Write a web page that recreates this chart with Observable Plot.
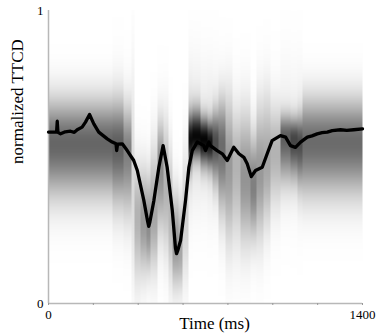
<!DOCTYPE html>
<html>
<head>
<meta charset="utf-8">
<script src="https://cdn.jsdelivr.net/npm/d3@7"></script>
<script src="https://cdn.jsdelivr.net/npm/@observablehq/plot@0.6"></script>
<style>
  html, body { margin: 0; padding: 0; background: #fff; }
  #chart { width: 377px; height: 336px; }
  #chart svg text { font-family: 'Liberation Serif', 'Times New Roman', serif; }
</style>
</head>
<body>
<div id="chart"></div>
<script>
// ---- mean curve (time in ms, normalized TTCD) ----
const lineT = [0, 36, 39, 42, 54, 75, 98, 115, 128, 150, 165, 183, 202, 224, 262, 284, 301, 304, 308, 329, 351, 380, 396, 425, 442, 447, 452, 470, 492, 511, 529, 552, 566, 571, 576, 589, 611, 626, 641, 663, 678, 692, 700, 715, 722, 752, 775, 797, 826, 849, 871, 886, 904, 923, 953, 975, 997, 1034, 1057, 1079, 1101, 1124, 1154, 1175, 1198, 1220, 1243, 1265, 1302, 1330, 1361, 1400];
const lineV = [0.585, 0.585, 0.622, 0.584, 0.579, 0.586, 0.588, 0.584, 0.593, 0.602, 0.619, 0.645, 0.613, 0.585, 0.562, 0.551, 0.545, 0.522, 0.544, 0.545, 0.522, 0.488, 0.454, 0.352, 0.280, 0.263, 0.278, 0.352, 0.465, 0.539, 0.465, 0.317, 0.190, 0.170, 0.180, 0.215, 0.352, 0.465, 0.522, 0.551, 0.545, 0.539, 0.522, 0.551, 0.539, 0.522, 0.511, 0.488, 0.533, 0.511, 0.499, 0.477, 0.433, 0.454, 0.465, 0.511, 0.556, 0.573, 0.568, 0.539, 0.533, 0.551, 0.568, 0.572, 0.579, 0.583, 0.585, 0.590, 0.593, 0.591, 0.593, 0.596];

// ---- background distribution, per time segment ----
const segStart  = [0,     285,  334,  370,  383,  410,  437,  455,  486,  513,  535,  553,  580,  598,  624,  642,  678,  709,  731,  758,  789,  820,  856,  901,  927,  959,  990,  1034, 1079, 1110, 1133];
const segCenter = [0.546, 0.54, 0.52, 0.40, 0.30, 0.28, 0.26, 0.30, 0.47, 0.40, 0.30, 0.20, 0.18, 0.30, 0.56, 0.57, 0.56, 0.55, 0.55, 0.54, 0.48, 0.48, 0.43, 0.40, 0.45, 0.48, 0.52, 0.57, 0.56, 0.55, 0.55];
const segUp     = [0.10,  0.10, 0.10, 0.25, 0.12, 0.12, 0.12, 0.15, 0.10, 0.15, 0.15, 0.12, 0.12, 0.15, 0.06, 0.06, 0.05, 0.05, 0.07, 0.10, 0.15, 0.12, 0.15, 0.12, 0.15, 0.15, 0.10, 0.05, 0.05, 0.06, 0.10];
const segDown   = [0.12,  0.13, 0.14, 0.20, 0.15, 0.12, 0.10, 0.12, 0.15, 0.15, 0.15, 0.10, 0.09, 0.15, 0.06, 0.05, 0.06, 0.06, 0.09, 0.15, 0.18, 0.18, 0.15, 0.12, 0.15, 0.14, 0.12, 0.10, 0.09, 0.10, 0.12];
const segDark   = [0.60,  0.55, 0.45, 0.15, 0.30, 0.40, 0.45, 0.30, 0.40, 0.30, 0.28, 0.40, 0.35, 0.18, 0.80, 0.85, 0.88, 0.80, 0.60, 0.50, 0.35, 0.25, 0.42, 0.50, 0.35, 0.30, 0.25, 0.55, 0.65, 0.60, 0.58];
const segHalo   = [0.00,  0.08, 0.05, 0.00, 0.00, 0.00, 0.00, 0.05, 0.05, 0.00, 0.00, 0.00, 0.00, 0.00, 0.15, 0.12, 0.10, 0.12, 0.10, 0.08, 0.05, 0.05, 0.00, 0.00, 0.05, 0.05, 0.05, 0.08, 0.08, 0.10, 0.00];

const xTicks = [0, 200, 400, 600, 800, 1000, 1200, 1400];
const xTickLabels = ["0", "", "", "", "", "", "", "1400"];
const yTicks = [0, 1];
const yTickLabels = ["0", "1"];

const curve = lineT.map((t, i) => ({t, v: lineV[i]}));

function density(t, v) {
  let i = d3.bisectRight(segStart, t) - 1;
  if (i < 0) i = 0;
  const c = segCenter[i];
  const sd = v > c ? segUp[i] : segDown[i];
  const z = (v - c) / sd;
  const core = segDark[i] * Math.exp(-0.5 * z * z);
  const zh = (v - c) / 0.16;
  const halo = segHalo[i] * Math.exp(-0.5 * zh * zh);
  return Math.min(1, core + halo);
}

const font = "'Liberation Serif', 'Times New Roman', serif";
const axisGray = "#b8b8b8";

const chart = Plot.plot({
  width: 377,
  height: 336,
  marginLeft: 48,
  marginRight: 15,
  marginTop: 10,
  marginBottom: 33,
  style: {fontFamily: font, fontSize: "13px", background: "#fff", color: "#000"},
  x: {domain: [0, 1400]},
  y: {domain: [0, 1]},
  color: {type: "linear", domain: [0, 1], range: ["#ffffff", "#000000"]},
  marks: [
    Plot.raster({x1: 0, x2: 1400, y1: 0, y2: 1, fill: density, pixelSize: 1}),
    Plot.ruleX([0], {stroke: axisGray, strokeWidth: 1.5}),
    Plot.ruleY([0], {stroke: axisGray, strokeWidth: 1.5}),
    Plot.axisX({ticks: xTicks, tickFormat: (d, i) => xTickLabels[i], tickSize: 2, tickPadding: 4, stroke: "#999", label: null, fontSize: 13, fontFamily: font}),
    Plot.axisY({ticks: yTicks, tickFormat: (d, i) => yTickLabels[i], tickSize: 0, tickPadding: 5, label: null, fontSize: 13, fontFamily: font}),
    Plot.line(curve, {x: "t", y: "v", stroke: "#000", strokeWidth: 3.3, strokeLinejoin: "round"}),
    Plot.text(["Time (ms)"], {frameAnchor: "bottom", dy: 25, dx: 9, fontSize: 17, fill: "#000", fontFamily: font}),
    Plot.text(["normalized TTCD"], {frameAnchor: "left", dx: -31, dy: 7, rotate: -90, fontSize: 17, fill: "#000", fontFamily: font})
  ]
});
document.getElementById("chart").appendChild(chart);
</script>
</body>
</html>
